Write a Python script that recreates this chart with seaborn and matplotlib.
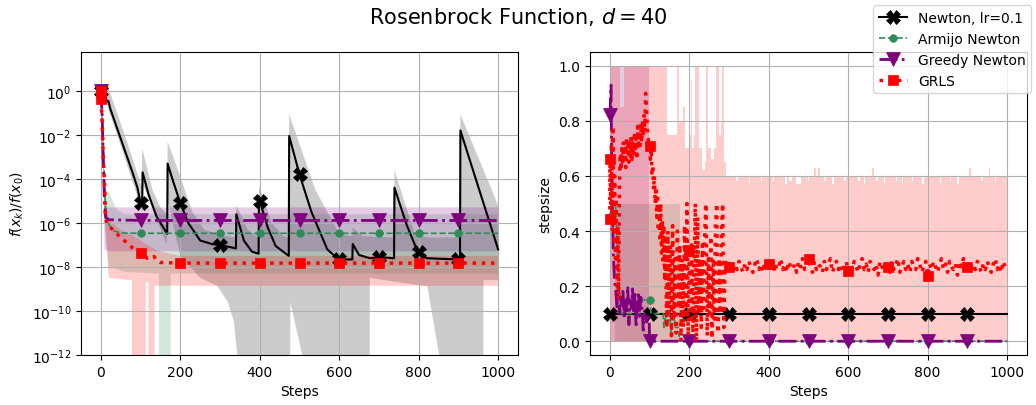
import numpy as np
import matplotlib
matplotlib.use("Agg")
import matplotlib.pyplot as plt
import seaborn as sns
from matplotlib.ticker import NullLocator, FixedLocator

# ---------------- LEFT PANEL: f(x_k)/f(x_0) ----------------
newton_f_steps = [0, 8, 16, 19, 24, 50, 80, 92, 100, 104, 105, 120, 140, 167, 168, 180, 200, 220, 250, 280,
                  300, 340, 341, 360, 380, 397, 398, 400, 420, 440, 473, 474, 500, 530, 570, 595, 600, 633, 634, 650,
                  677, 700, 738, 739, 770, 795, 800, 820, 900, 904, 905, 1000]
newton_f = [1.0, 0.7, 0.32, 0.35, 0.15, 6.8e-3, 1.9e-4, 4e-5, 8e-6, 6.3e-6, 2e-4, 2e-5, 2e-6, 3.2e-7, 5e-4,
            1e-4, 8e-6, 1e-6, 1.6e-7, 1.1e-7, 1e-7, 7e-8, 2.5e-6, 1.6e-7, 5e-8, 4e-8, 1.6e-5, 1e-5, 6.3e-7, 9e-8,
            3.2e-8, 9e-3, 1.6e-4, 3.2e-6, 6.3e-8, 2.5e-8, 2.2e-8, 2.2e-8, 1.1e-7, 3.5e-8, 2.5e-8, 2.8e-8, 2.5e-8,
            4e-5, 8e-7, 6.3e-8, 5e-8, 2.5e-8, 2.2e-8, 2.2e-8, 1.6e-2, 6.3e-8]
newton_hi_steps = [0, 3, 16, 60, 100, 103, 104, 130, 150, 167, 168, 200, 230, 260, 300, 340, 341, 370, 397, 398,
                   430, 460, 473, 474, 540, 600, 633, 634, 660, 738, 739, 790, 820, 904, 905, 1000]
newton_hi = [1.2, 2.0, 2.0, 1e-2, 6.3e-5, 5e-5, 2.5e-3, 3.2e-5, 5e-6, 2.5e-6, 5e-3, 1.3e-4, 3.2e-6, 5e-7, 2.8e-7,
             2.2e-7, 6.3e-6, 5e-7, 2e-7, 5e-5, 1e-6, 2.5e-7, 2e-7, 8.7e-2, 3.2e-5, 3.2e-7, 2.5e-7, 6.3e-7, 2.5e-7,
             2.2e-7, 2.5e-4, 3.2e-7, 2.2e-7, 2.2e-7, 8.7e-2, 6.3e-6]
newton_lo_steps = [0, 16, 24, 92, 104, 105, 166, 168, 200, 250, 293, 320, 335, 346, 350, 476, 477, 513, 520, 676,
                   677, 822, 856, 860, 962, 963, 1000]
newton_lo = [0.8, 0.2, 0.08, 1.6e-5, 3.2e-6, 6e-5, 1e-7, 1e-5, 3.2e-8, 3.2e-9, 1.4e-9, 2.5e-10, 3.2e-11, 3.2e-13,
             1e-40, 1e-40, 2.5e-10, 3.2e-13, 1e-40, 1e-40, 3.2e-9, 1.3e-9, 3.2e-13, 1e-40, 1e-40, 2.5e-9, 2.5e-9]

armijo_f_steps = [0, 5, 10, 12, 21, 32, 50, 100, 200, 300, 400, 500, 600, 700, 800, 900, 1000]
armijo_f = [1.0, 1e-2, 3.5e-5, 2.5e-6, 8e-7, 4.5e-7, 3.5e-7, 3.4e-7, 3.4e-7, 3.4e-7, 3.4e-7, 3.4e-7, 3.4e-7,
            3.4e-7, 3.4e-7, 3.4e-7, 3.4e-7]
armijo_band_steps = [0, 5, 10, 20, 40, 60, 146, 147, 175, 176, 1000]
armijo_hi = [1.3, 3e-2, 4e-5, 2.5e-5, 4e-6, 2.5e-6, 2.5e-6, 2.5e-6, 2.5e-6, 2.5e-6, 2.5e-6]
armijo_lo = [0.7, 1e-3, 1e-6, 1e-8, 8e-9, 6e-9, 5e-9, 1e-40, 1e-40, 5e-9, 5e-9]

greedy_f_steps = [0, 3, 6, 9, 12, 20, 100, 200, 300, 400, 500, 600, 700, 800, 900, 1000]
greedy_f = [1.0, 0.1, 1e-3, 1e-5, 1.8e-6, 1.4e-6, 1.3e-6, 1.3e-6, 1.3e-6, 1.3e-6, 1.3e-6, 1.3e-6, 1.3e-6,
            1.3e-6, 1.3e-6, 1.3e-6]
greedy_band_steps = [0, 4, 7, 8, 20, 1000]
greedy_hi = [1.3, 0.1, 1e-4, 5.4e-6, 5.4e-6, 5.4e-6]
greedy_lo = [0.7, 3e-3, 1e-6, 6.3e-8, 5.4e-8, 5.4e-8]

grls_f_steps = [0, 0, 3, 6, 10, 11, 15, 20, 28, 40, 54, 70, 85, 100, 116, 130, 134, 138, 150, 200,
                300, 400, 500, 600, 700, 800, 900, 1000]
grls_f = [1.0, 0.45, 0.05, 1e-3, 3.2e-5, 2e-6, 1e-6, 7e-7, 5.4e-7, 3.2e-7, 2e-7, 1e-7, 6.3e-8, 4.5e-8, 2.5e-8,
          2.5e-8, 3e-8, 2.2e-8, 1.6e-8, 1.5e-8, 1.5e-8, 1.5e-8, 1.5e-8, 1.5e-8, 1.5e-8, 1.5e-8, 1.5e-8, 1.5e-8]
grls_band_steps = [0, 5, 10, 20, 50, 78, 79, 100, 112, 113, 120, 121, 134, 135, 150, 200, 1000]
grls_hi = [2.0, 1e-2, 3.2e-5, 1.3e-6, 5e-7, 2.8e-7, 2.8e-7, 1.6e-7, 1.1e-7, 1.1e-7, 9.3e-8, 9.1e-8, 6.6e-8,
           6.3e-8, 5e-8, 3.2e-8, 3.2e-8]
grls_lo = [0.2, 1e-3, 1e-6, 3.2e-9, 2.8e-9, 2.5e-9, 1e-40, 1e-40, 1e-40, 2e-9, 2e-9, 1e-40, 1e-40, 1.4e-9,
           1.4e-9, 1.4e-9, 1.4e-9]

# ---------------- RIGHT PANEL: stepsize ----------------
newton_ss_steps = [0, 100, 200, 300, 400, 500, 600, 700, 800, 900, 1000]
newton_ss = [0.1, 0.1, 0.1, 0.1, 0.1, 0.1, 0.1, 0.1, 0.1, 0.1, 0.1]

armijo_ss_steps = [0, 5, 10, 14, 18, 22, 27, 30, 76, 77, 100, 104, 134, 136, 140, 145, 150, 155, 160, 165,
                   172, 175, 200, 300, 400, 500, 600, 700, 800, 900, 1000]
armijo_ss = [0.45, 0.5, 0.5, 0.5, 0.35, 0.25, 0.13, 0.1, 0.1, 0.15, 0.15, 0.1, 0.1, 0.05, 0.1, 0.05, 0.1, 0.03,
             0.1, 0.05, 0.05, 0.0, 0.0, 0.0, 0.0, 0.0, 0.0, 0.0, 0.0, 0.0, 0.0]
armijo_ss_band_steps = [12, 177, 1000]
armijo_ss_hi = [0.5, 0.0, 0.0]

greedy_ss_steps = [0, 3, 5, 7, 9, 12, 15, 18, 21, 24, 27, 30, 33, 36, 39, 42, 45, 48, 51, 54, 57, 60, 63, 66, 69,
                   72, 75, 78, 81, 84, 87, 90, 93, 96, 99, 100, 200, 300, 400, 500, 600, 700, 800, 900, 1000]
greedy_ss = [0.82, 0.93, 0.6, 0.45, 0.3, 0.22, 0.18, 0.12, 0.2, 0.1, 0.17, 0.13, 0.19, 0.08, 0.16, 0.11, 0.2,
             0.06, 0.15, 0.12, 0.19, 0.1, 0.17, 0.05, 0.14, 0.18, 0.09, 0.16, 0.12, 0.04, 0.1, 0.08, 0.07, 0.1,
             0.08, 0.0, 0.0, 0.0, 0.0, 0.0, 0.0, 0.0, 0.0, 0.0, 0.0]
greedy_ss_band_steps = [0, 98, 1000]
greedy_ss_hi = [1.0, 0.0, 0.0]

grls_ss_head = [0.445, 0.66]                       # two samples at step 0
grls_ss_a = [0.5, 0.72, 0.4, 0.78, 0.35, 0.6, 0.3, 0.52, 0.2, 0.42,        # steps 2..138 by 2
             0.15, 0.55, 0.68, 0.62, 0.7, 0.64, 0.72, 0.66, 0.7, 0.63,
             0.74, 0.68, 0.71, 0.65, 0.73, 0.67, 0.75, 0.66, 0.72, 0.68,
             0.76, 0.69, 0.74, 0.66, 0.78, 0.7, 0.76, 0.71, 0.79, 0.72,
             0.8, 0.74, 0.82, 0.76, 0.9, 0.85, 0.78, 0.74, 0.72, 0.71,
             0.66, 0.7, 0.6, 0.64, 0.55, 0.6, 0.5, 0.56, 0.45, 0.52,
             0.4, 0.48, 0.36, 0.5, 0.32, 0.44, 0.28, 0.42, 0.22]
grls_ss_b = [0.38, 0.05, 0.4, 0.1, 0.35, 0.02, 0.42, 0.08, 0.3, 0.03,     # steps 140..290 by 3
             0.4, 0.12, 0.35, 0.0, 0.3, 0.05, 0.42, 0.1, 0.5, 0.02,
             0.33, 0.08, 0.35, 0.03, 0.28, 0.5, 0.0, 0.45, 0.1, 0.3,
             0.05, 0.35, 0.12, 0.4, 0.5, 0.02, 0.3, 0.1, 0.38, 0.01,
             0.3, 0.08, 0.42, 0.5, 0.03, 0.3, 0.1, 0.4, 0.5, 0.05,
             0.3]
grls_ss_c = [0.27, 0.27, 0.29, 0.25, 0.28, 0.26, 0.29, 0.27, 0.25, 0.28,  # steps 295..1000 by 5
             0.26, 0.29, 0.27, 0.25, 0.28, 0.3, 0.26, 0.28, 0.25, 0.29,
             0.27, 0.28, 0.26, 0.29, 0.25, 0.28, 0.27, 0.3, 0.26, 0.28,
             0.25, 0.29, 0.27, 0.26, 0.28, 0.25, 0.29, 0.27, 0.3, 0.26,
             0.28, 0.3, 0.27, 0.25, 0.29, 0.26, 0.28, 0.27, 0.25, 0.29,
             0.26, 0.28, 0.3, 0.25, 0.27, 0.29, 0.26, 0.28, 0.25, 0.27,
             0.29, 0.255, 0.28, 0.26, 0.29, 0.27, 0.25, 0.28, 0.3, 0.26,
             0.28, 0.25, 0.29, 0.27, 0.26, 0.28, 0.24, 0.29, 0.27, 0.26,
             0.28, 0.27, 0.25, 0.29, 0.26, 0.28, 0.3, 0.25, 0.27, 0.29,
             0.26, 0.28, 0.25, 0.29, 0.27, 0.26, 0.3, 0.28, 0.25, 0.27,
             0.29, 0.238, 0.28, 0.26, 0.29, 0.27, 0.25, 0.28, 0.3, 0.26,
             0.28, 0.25, 0.29, 0.27, 0.26, 0.28, 0.24, 0.29, 0.27, 0.3,
             0.26, 0.27, 0.29, 0.25, 0.28, 0.26, 0.29, 0.27, 0.25, 0.28,
             0.26, 0.29, 0.27, 0.25, 0.28, 0.3, 0.26, 0.28, 0.25, 0.29,
             0.27, 0.28]
grls_ss_steps = [0, 0] + list(range(2, 139, 2)) + list(range(140, 291, 3)) + list(range(295, 1001, 5))
grls_ss = grls_ss_head + grls_ss_a + grls_ss_b + grls_ss_c

grls_ss_band_steps = [0, 25, 36, 140, 145, 165, 168, 172, 175, 185, 190, 200, 205, 208, 212, 214, 222, 224, 232,
                      240, 243, 246, 248, 255, 262, 268, 272, 274, 280, 282, 285, 288, 292,
                      318, 322, 350, 354, 380, 383, 410, 413, 440, 446, 452, 458, 468, 480, 498, 502, 515, 519,
                      525, 528, 540, 543, 560, 563, 590, 594, 625, 630, 640, 643, 660, 664, 670, 676, 690, 693,
                      720, 724, 735, 738, 760, 763, 785, 790, 800, 803, 830, 834, 855, 858, 875, 878, 905, 908,
                      935, 940, 955, 958, 970, 973, 1000]
grls_ss_hi = [1.0, 0.85, 1.0, 1.0, 0.75, 0.75, 1.0, 1.0, 0.8, 0.85, 0.7, 0.75, 0.95, 0.7, 0.75, 1.0, 1.0, 0.7,
              0.62, 0.65, 1.0, 1.0, 0.7, 0.66, 0.7, 1.0, 1.0, 0.75, 0.8, 1.0, 1.0, 0.65, 0.6,
              0.58, 0.6, 0.57, 0.6, 0.58, 0.6, 0.58, 0.6, 0.57, 0.6, 0.58, 0.6, 0.57, 0.6, 0.58, 0.6, 0.63, 0.6,
              0.63, 0.6, 0.58, 0.6, 0.57, 0.6, 0.58, 0.6, 0.58, 0.6, 0.57, 0.6, 0.63, 0.6, 0.58, 0.6, 0.57, 0.6,
              0.58, 0.6, 0.57, 0.6, 0.58, 0.6, 0.57, 0.6, 0.58, 0.6, 0.57, 0.6, 0.58, 0.6, 0.57, 0.6, 0.63, 0.6,
              0.58, 0.6, 0.63, 0.6, 0.58, 0.6, 0.6]

labels = ["Newton, lr=0.1", "Armijo Newton", "Greedy Newton", "GRLS"]
colors = ["black", "seagreen", "purple", "red"]

assert len(grls_ss_steps) == len(grls_ss)
assert len(grls_ss_band_steps) == len(grls_ss_hi)

fig = plt.figure(figsize=(10.36, 4.06), dpi=100)
ax_l = fig.add_axes([81 / 1036, 50 / 406, 437 / 1036, 303 / 406])
ax_r = fig.add_axes([590 / 1036, 50 / 406, 437 / 1036, 303 / 406])
ax_l.set_yscale("log")

styles = [
    dict(linestyle="-", linewidth=1.5, marker="X", markersize=10),
    dict(linestyle="--", linewidth=1.2, marker="o", markersize=5.5),
    dict(linestyle="-.", linewidth=2.0, marker="v", markersize=9.5),
    dict(linestyle=":", linewidth=2.5, marker="s", markersize=7.5),
]


def draw_line(ax, steps, vals, k, label=None):
    idx = [i for i, s in enumerate(steps) if s % 100 == 0 and s < 1000]
    kw = dict(styles[k])
    sns.lineplot(x=np.asarray(steps, float), y=np.asarray(vals, float), ax=ax, sort=False,
                 estimator=None, color=colors[k], markevery=idx, markeredgecolor=colors[k],
                 markeredgewidth=0.5, label=label, legend=False, **kw)


# left bands (Newton band bounds read on different step grids, joined on one grid in log space)
u = np.union1d(newton_hi_steps, newton_lo_steps)
ax_l.fill_between(u, 10 ** np.interp(u, newton_hi_steps, np.log10(newton_hi)),
                  10 ** np.interp(u, newton_lo_steps, np.log10(newton_lo)),
                  color="black", alpha=0.2, linewidth=0)
ax_l.fill_between(armijo_band_steps, armijo_hi, armijo_lo, color="seagreen", alpha=0.2, linewidth=0)
ax_l.fill_between(greedy_band_steps, greedy_hi, greedy_lo, color="purple", alpha=0.2, linewidth=0)
ax_l.fill_between(grls_band_steps, grls_hi, grls_lo, color="red", alpha=0.2, linewidth=0)

draw_line(ax_l, newton_f_steps, newton_f, 0, labels[0])
draw_line(ax_l, armijo_f_steps, armijo_f, 1, labels[1])
draw_line(ax_l, greedy_f_steps, greedy_f, 2, labels[2])
draw_line(ax_l, grls_f_steps, grls_f, 3, labels[3])

# right bands
ax_r.fill_between(armijo_ss_band_steps, armijo_ss_hi, 0, step="post", color="seagreen", alpha=0.2, linewidth=0)
ax_r.fill_between(greedy_ss_band_steps, greedy_ss_hi, 0, step="post", color="purple", alpha=0.2, linewidth=0)
ax_r.fill_between(grls_ss_band_steps, grls_ss_hi, 0, step="post", color="red", alpha=0.2, linewidth=0)

draw_line(ax_r, newton_ss_steps, newton_ss, 0)
draw_line(ax_r, armijo_ss_steps, armijo_ss, 1)
draw_line(ax_r, greedy_ss_steps, greedy_ss, 2)
draw_line(ax_r, grls_ss_steps, grls_ss, 3)

for ax in (ax_l, ax_r):
    ax.set_xlim(-50, 1050)
    ax.set_xticks([0, 200, 400, 600, 800, 1000])
    ax.grid(True, color="#b0b0b0", linewidth=0.8)
    ax.set_xlabel("Steps", fontsize=10)
    ax.tick_params(labelsize=10)

ax_l.set_ylim(1e-12, 10 ** 1.77)
ax_l.yaxis.set_major_locator(FixedLocator([1e0, 1e-2, 1e-4, 1e-6, 1e-8, 1e-10, 1e-12]))
ax_l.yaxis.set_minor_locator(NullLocator())
ax_l.set_ylabel("$f(x_k)/f(x_0)$", fontsize=10)

ax_r.set_ylim(-0.05, 1.05)
ax_r.set_ylabel("stepsize", fontsize=10)

fig.suptitle("Rosenbrock Function, $d=40$", fontsize=15, y=0.985)
handles, labs = ax_l.get_legend_handles_labels()
fig.legend(handles, labs, loc="upper right", bbox_to_anchor=(1.002, 1.002), fontsize=10)

fig.savefig("out.png", dpi=100)
